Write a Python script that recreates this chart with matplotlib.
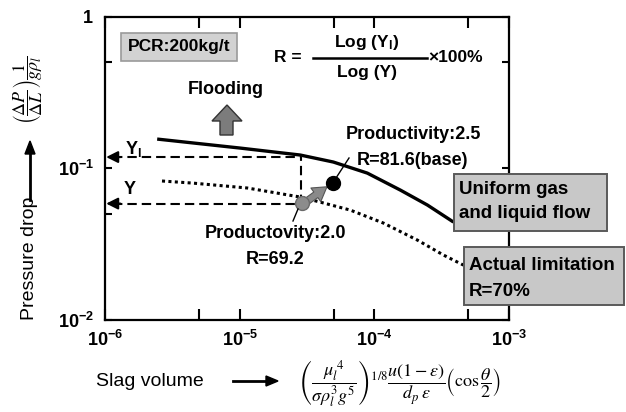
import numpy as np
import matplotlib
matplotlib.use("Agg")
import matplotlib.pyplot as plt
from matplotlib.patches import Rectangle, Polygon
from matplotlib.lines import Line2D

plt.rcParams['font.family'] = ['Liberation Sans', 'DejaVu Sans']
plt.rcParams['mathtext.fontset'] = 'custom'
plt.rcParams['mathtext.rm'] = 'Liberation Sans'
plt.rcParams['mathtext.bf'] = 'Liberation Sans:bold'
plt.rcParams['mathtext.it'] = 'Liberation Sans:italic'

# uniform gas and liquid flow (solid) and actual limitation (dotted)
uniform_x = [2.44e-6, 1.01e-5, 2.82e-5, 4.96e-5, 8.87e-5, 1.56e-4, 2.48e-4, 3.87e-4]
uniform_y = [0.1557, 0.1358, 0.1222, 0.1099, 0.0929, 0.0718, 0.0572, 0.0442]
actual_x = [2.65e-6, 4.51e-6, 1.14e-5, 2.82e-5, 3.97e-5, 6.63e-5, 1.17e-4, 2.09e-4, 3.26e-4, 4.59e-4]
actual_y = [0.0824, 0.0798, 0.0741, 0.0646, 0.0598, 0.0530, 0.0435, 0.0336, 0.0268, 0.0230]

# operating points
prod_25 = (4.96e-5, 0.0798)
prod_20 = (2.90e-5, 0.0588)
Y_l = 0.1185
Y = 0.0585
x_read = 2.86e-5

xticks = [1e-6, 5e-6, 1e-5, 5e-5, 1e-4, 5e-4, 1e-3]
xticklabels = [r'$\mathbf{10^{-6}}$', '', r'$\mathbf{10^{-5}}$', '', r'$\mathbf{10^{-4}}$', '', r'$\mathbf{10^{-3}}$']
yticks = [1e-2, 5e-2, 1e-1, 5e-1, 1]
yticklabels = [r'$\mathbf{10^{-2}}$', '', r'$\mathbf{10^{-1}}$', '', r'$\mathbf{1}$']

W, H = 626, 412
fig = plt.figure(figsize=(W / 100, H / 100), dpi=100)


def fp(x, y):
    # pixel position (from top-left) -> figure fraction
    return x / W, 1 - y / H


ax = fig.add_axes([105 / W, 1 - 320 / H, 404 / W, 303.5 / H])
ax.set_xscale('log')
ax.set_yscale('log')
ax.set_xlim(1e-6, 1e-3)
ax.set_ylim(1e-2, 1)
ax.minorticks_off()
ax.set_xticks(xticks)
ax.set_xticklabels(xticklabels, fontsize=13)
ax.set_yticks(yticks)
ax.set_yticklabels(yticklabels, fontsize=13)
ax.tick_params(axis='x', direction='in', length=8, width=1.5, top=True, pad=7)
ax.tick_params(axis='y', direction='in', length=5, width=1.5, right=True, pad=8)
for s in ax.spines.values():
    s.set_linewidth(1.6)

ax.plot(uniform_x, uniform_y, color='k', lw=2.4, solid_capstyle='butt')
ax.plot(actual_x, actual_y, color='k', lw=2.2, linestyle=(0, (1, 1.1)))

# reading lines for Y_l and Y
dash = (0, (4.5, 2.4))
ax.plot([x_read, x_read], [Y, Y_l], color='k', lw=1.5, linestyle=dash)
ax.plot([1.15e-6, x_read], [Y_l, Y_l], color='k', lw=1.5, linestyle=dash)
ax.plot([1.15e-6, x_read], [Y, Y], color='k', lw=1.5, linestyle=dash)
for yv in (Y_l, Y):
    ax.annotate('', xy=(1.02e-6, yv), xytext=(1.3e-6, yv),
                arrowprops=dict(arrowstyle='-|>,head_length=0.7,head_width=0.35',
                                lw=1.5, color='k', shrinkA=0, shrinkB=0))

ax.plot(*prod_20, 'o', ms=10, color='#8c8c8c', mec='#6a6a6a', zorder=5)
ax.plot(*prod_25, 'o', ms=10, color='k', zorder=5)
ax.annotate('', xy=(4.45e-5, 0.0755), xytext=(3.15e-5, 0.0605),
            arrowprops=dict(arrowstyle='simple,head_width=1.1,head_length=0.9,tail_width=0.45',
                            mutation_scale=11, fc='#8a8a8a', ec='#555555', lw=0.8,
                            shrinkA=0, shrinkB=0), zorder=4)

# leader lines
fig.add_artist(Line2D(*zip(fp(336, 178), fp(349, 158)), color='k', lw=1))
fig.add_artist(Line2D(*zip(fp(298, 209), fp(293, 221)), color='k', lw=1))

bold = dict(fontweight='bold', ha='center', va='center')

# PCR box
fig.add_artist(Rectangle(fp(121, 61), 116 / W, 28 / H, transform=fig.transFigure,
                         fc='#d2d2d2', ec='#9a9a9a', lw=1.2))
fig.text(*fp(179, 47), 'PCR:200kg/t', fontsize=12.5, **bold)

# R definition
fig.text(*fp(288, 58), 'R =', fontsize=12.5, **bold)
fig.text(*fp(367, 43), r'Log (Y$_{\mathbf{l}}$)', fontsize=12.5, **bold)
fig.text(*fp(367, 72), 'Log (Y)', fontsize=12.5, **bold)
fig.add_artist(Line2D(*zip(fp(313, 58), fp(427, 58)), color='k', lw=1.8))
fig.text(*fp(428, 58), '×100%', fontsize=12.5, fontweight='bold', ha='left', va='center')

# flooding
fig.text(*fp(226, 90), 'Flooding', fontsize=13, **bold)
arrow_px = [(220, 135), (233, 135), (233, 121), (242, 121), (227, 105), (212, 121), (220, 121)]
fig.add_artist(Polygon([fp(x, y) for x, y in arrow_px], closed=True, transform=fig.transFigure,
                       fc='#7c7c7c', ec='#333333', lw=1))

fig.text(*fp(133, 149), r'Y$_{\mathbf{l}}$', fontsize=13, **bold)
fig.text(*fp(130, 189), 'Y', fontsize=13, **bold)

fig.text(*fp(413, 134), 'Productivity:2.5', fontsize=13, **bold)
fig.text(*fp(413, 160), 'R=81.6(base)', fontsize=13, **bold)
fig.text(*fp(275, 234), 'Productovity:2.0', fontsize=13, **bold)
fig.text(*fp(275, 260), 'R=69.2', fontsize=13, **bold)

# label boxes
fig.add_artist(Rectangle(fp(454, 231), 153 / W, 57 / H, transform=fig.transFigure,
                         fc='#c8c8c8', ec='#5a5a5a', lw=1.4))
fig.text(*fp(459, 189), 'Uniform gas', fontsize=13.5, fontweight='bold', ha='left', va='center')
fig.text(*fp(459, 214), 'and liquid flow', fontsize=13.5, fontweight='bold', ha='left', va='center')
fig.add_artist(Rectangle(fp(464, 305), 160 / W, 58 / H, transform=fig.transFigure,
                         fc='#c8c8c8', ec='#5a5a5a', lw=1.4))
fig.text(*fp(469, 266), 'Actual limitation', fontsize=13.5, fontweight='bold', ha='left', va='center')
fig.text(*fp(469, 291), 'R=70%', fontsize=13.5, fontweight='bold', ha='left', va='center')

# axis titles
fig.text(*fp(150, 381), 'Slag volume', fontsize=14, ha='center', va='center')
fig.add_artist(Line2D(*zip(fp(233, 381), fp(268, 381)), color='k', lw=2))
fig.add_artist(Polygon([fp(266, 376), fp(278, 381), fp(266, 386)], closed=True,
                       transform=fig.transFigure, fc='k', ec='k'))
fig.text(*fp(400, 384),
         r'$\left(\dfrac{\mu_l^{\;4}}{\sigma\rho_l^3 g^5}\right)^{1/8}\dfrac{u(1-\varepsilon)}{d_p\,\varepsilon}\left(\cos\dfrac{\theta}{2}\right)$',
         fontsize=13, ha='center', va='center', math_fontfamily='stix')

fig.text(*fp(30, 258), 'Pressure drop', fontsize=14, rotation=90, ha='center', va='center')
fig.add_artist(Line2D(*zip(fp(30, 200), fp(30, 152)), color='k', lw=2))
fig.add_artist(Polygon([fp(25, 154), fp(30, 141), fp(35, 154)], closed=True,
                       transform=fig.transFigure, fc='k', ec='k'))
fig.text(*fp(28, 90), r'$\left(\dfrac{\Delta P}{\Delta L}\right)\dfrac{1}{g\rho_l}$',
         fontsize=13, rotation=90, ha='center', va='center', math_fontfamily='stix')

fig.savefig('out.png', dpi=100)
